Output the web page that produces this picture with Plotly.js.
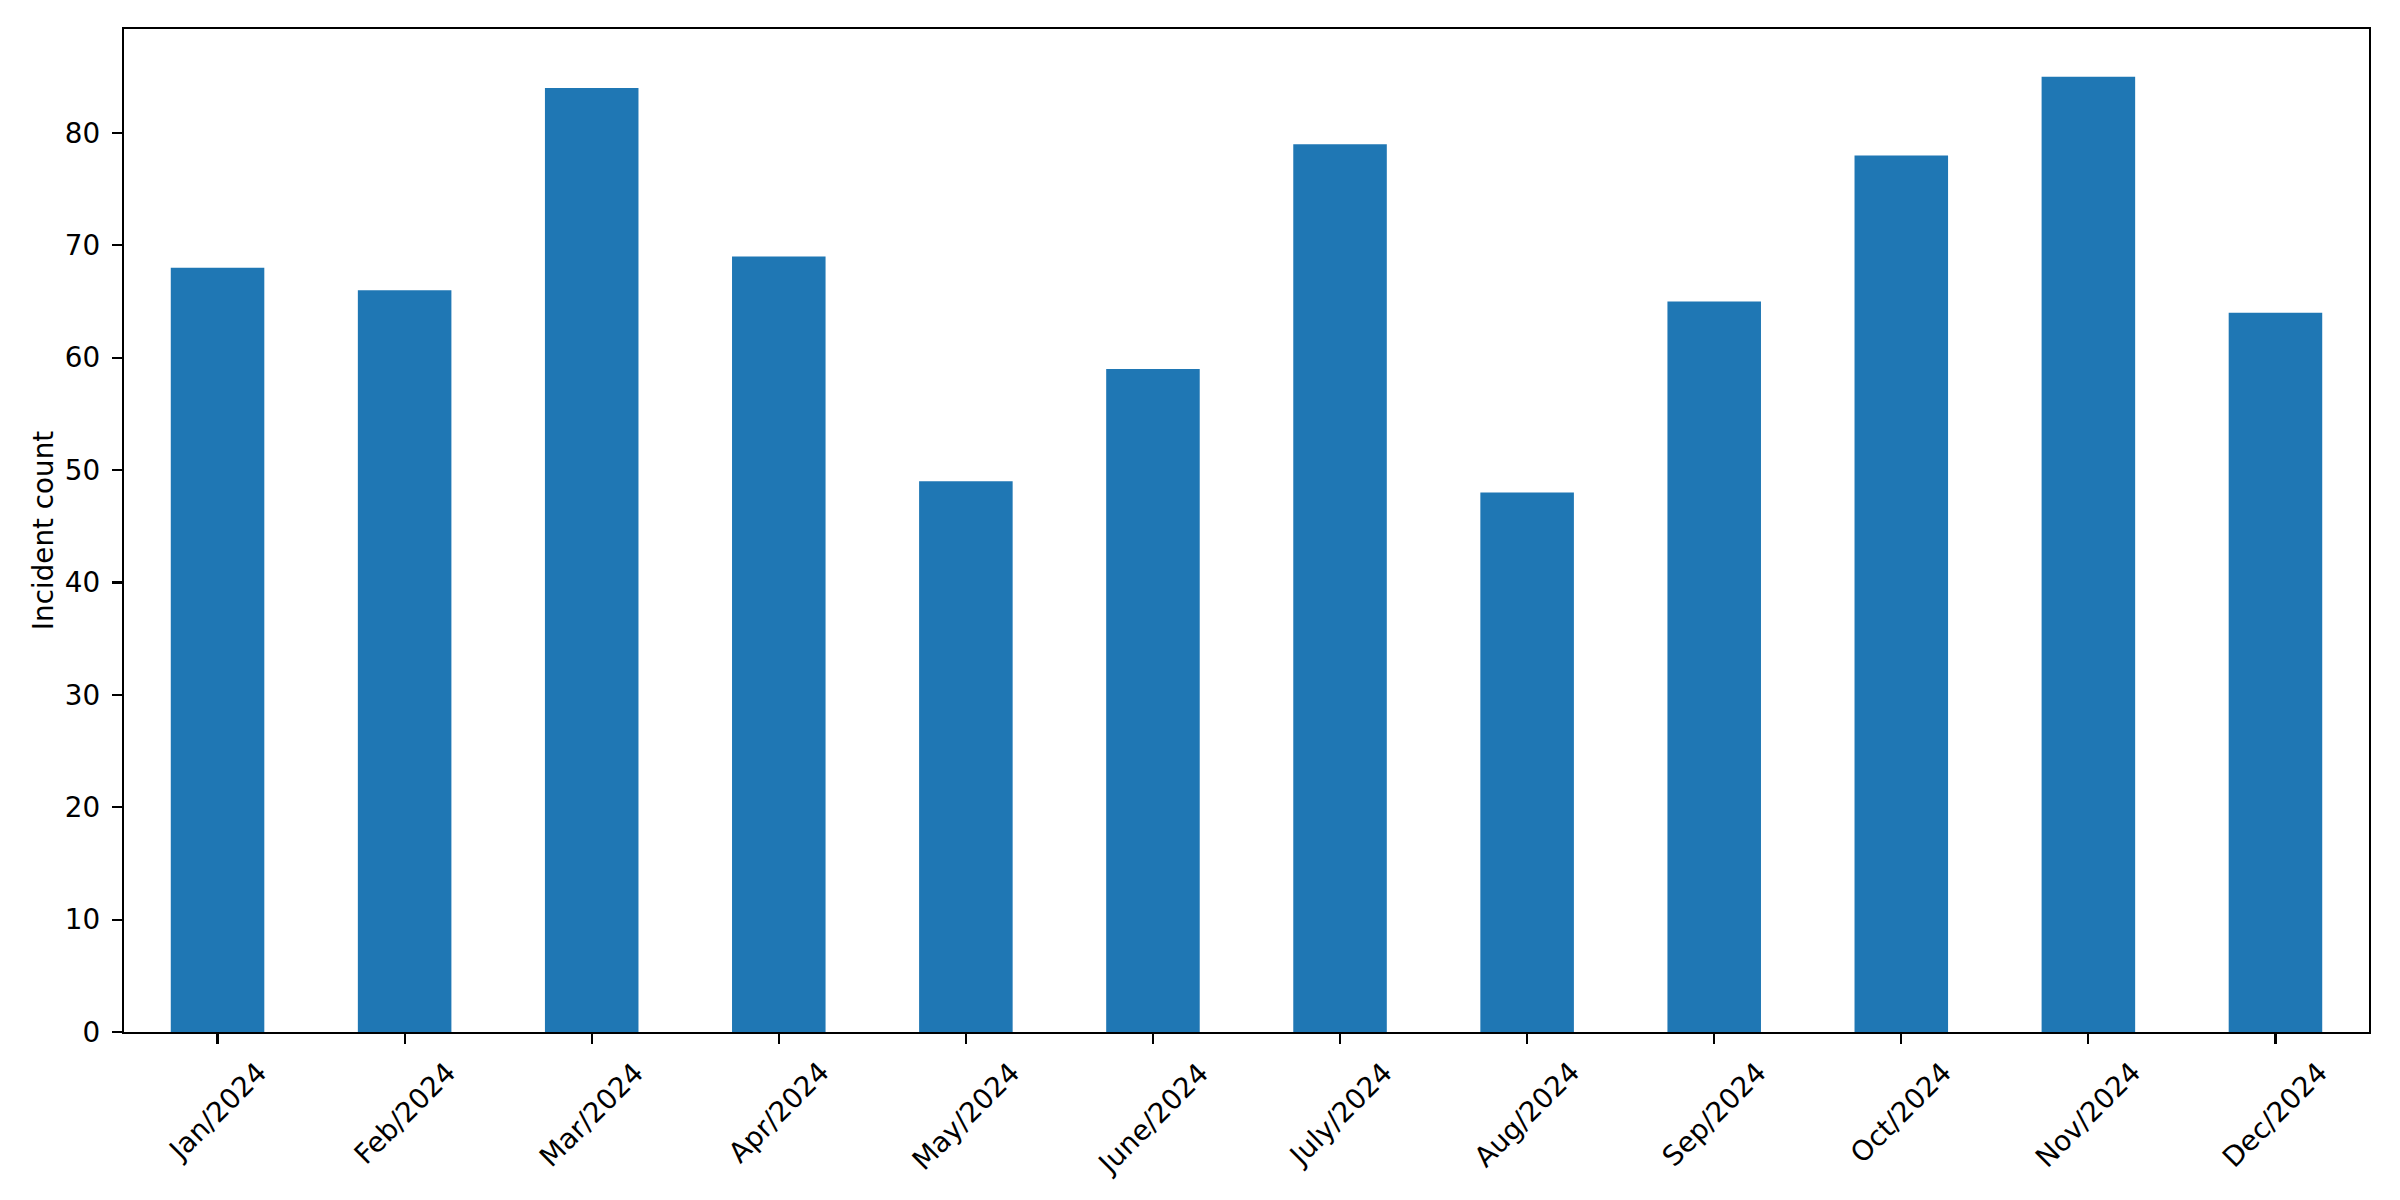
<!DOCTYPE html>
<html>
<head>
<meta charset="utf-8">
<script src="https://cdn.plot.ly/plotly-3.0.1.min.js"></script>
<style>html,body{margin:0;padding:0;background:#fff;}</style>
</head>
<body>
<div id="chart" style="width:2400px;height:1200px;"></div>
<script>
const months = ["Jan/2024","Feb/2024","Mar/2024","Apr/2024","May/2024","June/2024","July/2024","Aug/2024","Sep/2024","Oct/2024","Nov/2024","Dec/2024"];
const incidents = [68, 66, 84, 69, 49, 59, 79, 48, 65, 78, 85, 64];
const yTitle = "Incident count";

const FONT = "DejaVu Sans, sans-serif";
const FS = 27.8;

const trace = {
  type: "bar",
  x: months,
  y: incidents,
  width: 0.5,
  marker: {color: "#1f77b4", line: {width: 0}},
  hoverinfo: "x+y"
};

const annotations = months.map(m => ({
  x: m, xref: "x",
  y: 0, yref: "paper",
  text: m,
  showarrow: false,
  textangle: -45,
  xanchor: "center",
  yanchor: "top",
  yshift: -21,
  font: {family: FONT, size: FS, color: "#000"}
}));

const layout = {
  width: 2400,
  height: 1200,
  margin: {l: 124, r: 31, t: 29, b: 168, pad: 0},
  paper_bgcolor: "#fff",
  plot_bgcolor: "#fff",
  showlegend: false,
  font: {family: FONT, size: FS, color: "#000"},
  xaxis: {
    type: "category",
    range: [-0.5, 11.5],
    showticklabels: false,
    ticks: "outside",
    ticklen: 10,
    tickwidth: 2.2,
    tickcolor: "#000",
    showline: true,
    linecolor: "#000",
    linewidth: 2.2,
    mirror: true,
    showgrid: false,
    zeroline: false,
    fixedrange: true
  },
  yaxis: {
    range: [0, 89.25],
    dtick: 10,
    tick0: 0,
    ticks: "outside",
    ticklen: 10,
    tickwidth: 2.2,
    tickcolor: "#000",
    ticklabelstandoff: 6,
    showline: true,
    linecolor: "#000",
    linewidth: 2.2,
    mirror: true,
    showgrid: false,
    zeroline: false,
    tickfont: {family: FONT, size: FS, color: "#000"},
    title: {text: yTitle, font: {family: FONT, size: FS, color: "#000"}, standoff: 3},
    fixedrange: true
  },
  annotations: annotations
};

Plotly.newPlot("chart", [trace], layout, {displayModeBar: false, staticPlot: true});
</script>
</body>
</html>
